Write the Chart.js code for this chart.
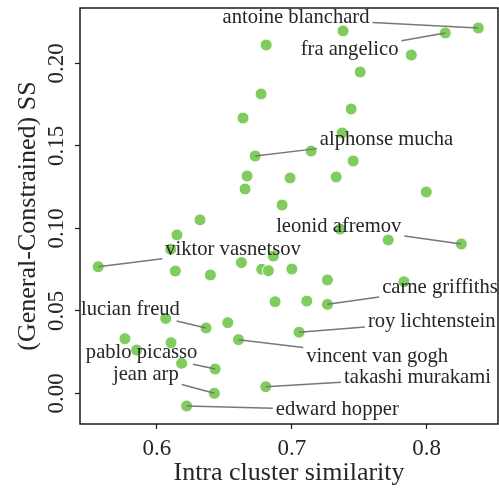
<!DOCTYPE html>
<html>
<head>
<meta charset="utf-8">
<script src="https://cdn.jsdelivr.net/npm/chart.js@4/dist/chart.umd.min.js"></script>
<style>
  html, body { margin: 0; padding: 0; background: #fff; }
  #wrap { width: 499px; height: 490px; }
</style>
</head>
<body>
<div id="wrap"><canvas id="artChart"></canvas></div>
<script>
// --- data ---
const simX = [0.8383, 0.8138, 0.7380, 0.6810, 0.7886, 0.7507, 0.6772, 0.7440, 0.6638, 0.7373,
              0.7143, 0.6728, 0.7455, 0.6668, 0.6987, 0.7329, 0.6653, 0.7997, 0.6928, 0.6319,
              0.6148, 0.7358, 0.7715, 0.8257, 0.6102, 0.6863, 0.5564, 0.6626, 0.6777, 0.6826,
              0.7000, 0.6136, 0.6396, 0.7264, 0.7831, 0.6876, 0.7111, 0.7264, 0.6065, 0.6364,
              0.6525, 0.7054, 0.5762, 0.6104, 0.6604, 0.5849, 0.6183, 0.6431, 0.6425, 0.6807,
              0.6220];
const ssY  = [0.2214, 0.2184, 0.2196, 0.2111, 0.2050, 0.1947, 0.1814, 0.1723, 0.1668, 0.1578,
              0.1468, 0.1438, 0.1408, 0.1317, 0.1305, 0.1311, 0.1238, 0.1220, 0.1141, 0.1051,
              0.0960, 0.0995, 0.0929, 0.0905, 0.0873, 0.0832, 0.0767, 0.0792, 0.0752, 0.0743,
              0.0753, 0.0741, 0.0717, 0.0687, 0.0676, 0.0555, 0.0559, 0.0539, 0.0454, 0.0396,
              0.0428, 0.0370, 0.0331, 0.0307, 0.0325, 0.0262, 0.0182, 0.0147, 0.0000, 0.0040,
              -0.0077];

// named artists: which point, and where the label sits (data units, centre x / baseline y)
const artistNames = ['antoine blanchard', 'fra angelico', 'alphonse mucha', 'leonid afremov',
                     'viktor vasnetsov', 'carne griffiths', 'lucian freud', 'roy lichtenstein',
                     'vincent van gogh', 'pablo picasso', 'jean arp', 'takashi murakami',
                     'edward hopper'];
const artistIdx = [0, 1, 11, 23, 26, 37, 39, 41, 44, 47, 48, 49, 50];
const labelX = [0.7031, 0.7428, 0.7702, 0.7348, 0.6564, 0.8099, 0.5803, 0.8037, 0.7633,
                0.5886, 0.5917, 0.7932, 0.7337];
const labelY = [0.2242, 0.2050, 0.1503, 0.0979, 0.0838, 0.0606, 0.0475, 0.0404, 0.0192,
                0.0212, 0.0081, 0.0064, -0.0132];

const xTicks = [0.6, 0.7, 0.8];
const yTicks = [0.00, 0.05, 0.10, 0.15, 0.20];

const serif = "'Liberation Serif', 'Times New Roman', serif";
const ink = '#262626';

// labels, leader lines, frame and rotated y tick labels
const annotatePlugin = {
    id: 'annotate',
    afterDatasetsDraw(chart) {
        const { ctx, chartArea: a, scales: { x, y } } = chart;
        ctx.save();
        ctx.font = '20.6px ' + serif;
        ctx.textAlign = 'center';
        ctx.textBaseline = 'alphabetic';
        artistNames.forEach((name, i) => {
            const px = x.getPixelForValue(simX[artistIdx[i]]);
            const py = y.getPixelForValue(ssY[artistIdx[i]]);
            const tx = x.getPixelForValue(labelX[i]);
            const ty = y.getPixelForValue(labelY[i]);
            const w = ctx.measureText(name).width;
            // text box with a little padding
            const x0 = tx - w / 2 - 3, x1 = tx + w / 2 + 3;
            const y0 = ty - 16, y1 = ty + 6;
            const cx = tx, cy = (y0 + y1) / 2;
            const dx = px - cx, dy = py - cy;
            let t = 1;
            if (dx !== 0) t = Math.min(t, Math.abs((dx > 0 ? x1 - cx : x0 - cx) / dx));
            if (dy !== 0) t = Math.min(t, Math.abs((dy > 0 ? y1 - cy : y0 - cy) / dy));
            ctx.strokeStyle = '#777777';
            ctx.lineWidth = 1.5;
            ctx.beginPath();
            ctx.moveTo(cx + dx * t, cy + dy * t);
            ctx.lineTo(px, py);
            ctx.stroke();
            ctx.fillStyle = ink;
            ctx.fillText(name, tx, ty);
        });

        // frame
        ctx.strokeStyle = '#1a1a1a';
        ctx.lineWidth = 1.5;
        ctx.strokeRect(a.left, a.top, a.right - a.left, a.bottom - a.top);

        // y tick labels, turned sideways
        ctx.font = '23px ' + serif;
        ctx.fillStyle = ink;
        ctx.textAlign = 'center';
        ctx.textBaseline = 'alphabetic';
        yTicks.forEach(v => {
            const py = y.getPixelForValue(v);
            ctx.save();
            ctx.translate(a.left - 17, py);
            ctx.rotate(-Math.PI / 2);
            ctx.fillText(v.toFixed(2), 0, 0);
            ctx.restore();
        });
        ctx.restore();
    }
};

new Chart(document.getElementById('artChart'), {
    type: 'scatter',
    data: {
        datasets: [{
            data: simX.map((v, i) => ({ x: v, y: ssY[i] })),
            backgroundColor: '#80cc5f',
            borderColor: '#ffffff',
            borderWidth: 1,
            pointRadius: 6,
            pointHoverRadius: 6
        }]
    },
    options: {
        responsive: true,
        maintainAspectRatio: false,
        animation: false,
        events: [],
        layout: { autoPadding: false, padding: { top: 8, right: 1, left: 0, bottom: 0 } },
        plugins: { legend: { display: false }, tooltip: { enabled: false } },
        scales: {
            x: {
                type: 'linear',
                min: 0.5429,
                max: 0.8529,
                afterBuildTicks: s => { s.ticks = xTicks.map(v => ({ value: v })); },
                afterFit: s => { s.height = 66; s.paddingLeft = 0; s.paddingRight = 0; },
                grid: { drawOnChartArea: false, tickLength: 5, tickColor: '#1a1a1a', tickWidth: 1.2 },
                border: { display: false },
                ticks: {
                    color: ink,
                    font: { family: serif, size: 23 },
                    padding: 6,
                    maxRotation: 0,
                    callback: v => v.toFixed(1)
                },
                title: {
                    display: true,
                    text: 'Intra cluster similarity',
                    color: ink,
                    font: { family: serif, size: 26 },
                    padding: { top: 0, bottom: 1 }
                }
            },
            y: {
                type: 'linear',
                min: -0.0186,
                max: 0.2335,
                afterBuildTicks: s => { s.ticks = yTicks.map(v => ({ value: v })); },
                afterFit: s => { s.width = 80; s.paddingTop = 0; s.paddingBottom = 0; },
                grid: { drawOnChartArea: false, tickLength: 5, tickColor: '#1a1a1a', tickWidth: 1.2 },
                border: { display: false },
                ticks: { display: false },
                title: {
                    display: true,
                    text: '(General-Constrained) SS',
                    color: ink,
                    font: { family: serif, size: 26 },
                    padding: { top: 13, bottom: 0 }
                }
            }
        }
    },
    plugins: [annotatePlugin]
});
</script>
</body>
</html>
